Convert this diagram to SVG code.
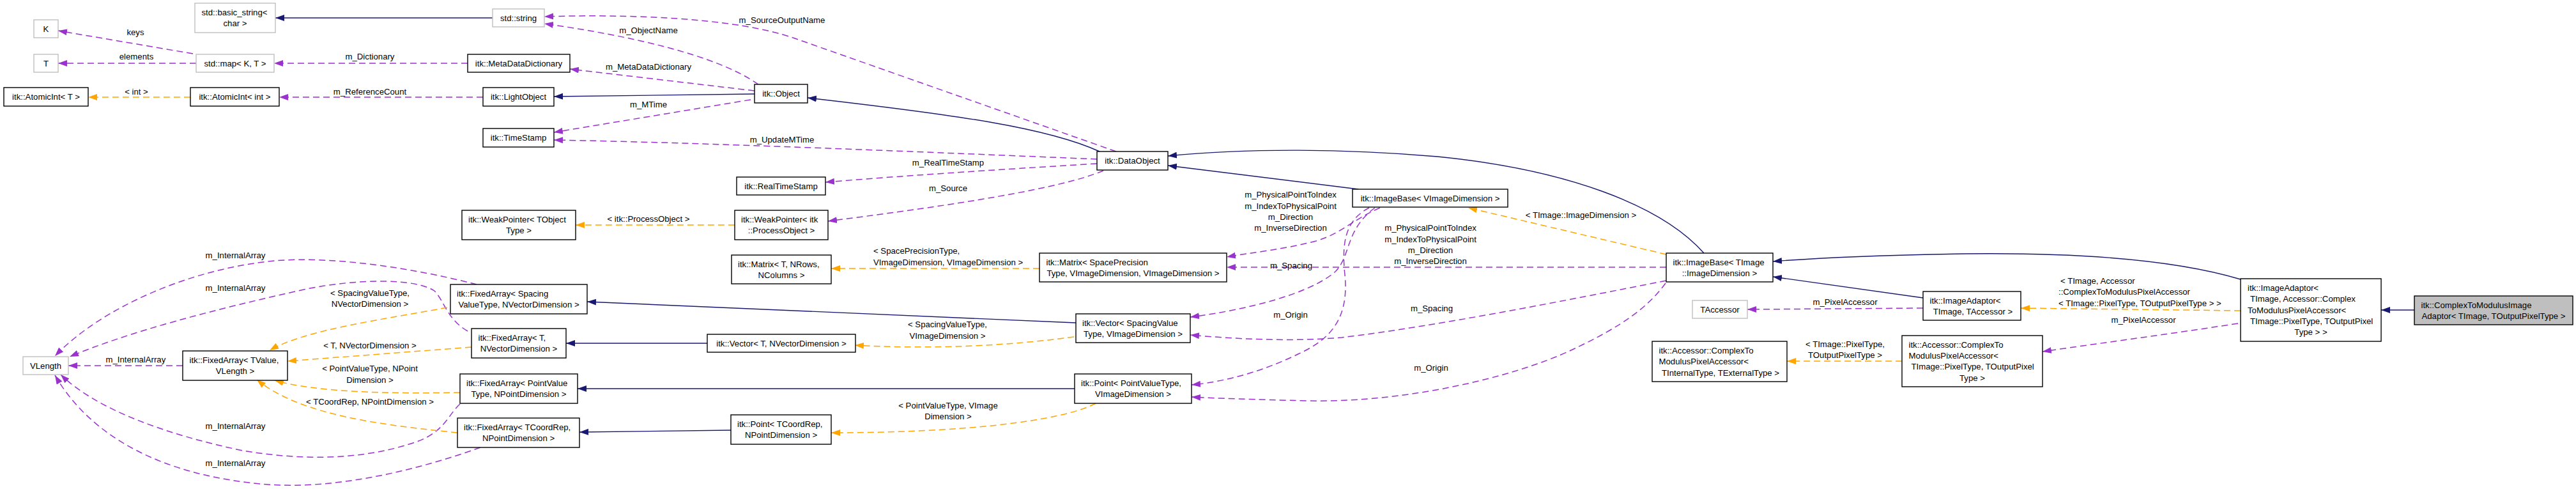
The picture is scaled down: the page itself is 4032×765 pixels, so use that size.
<svg xmlns="http://www.w3.org/2000/svg" width="4032" height="765" viewBox="0 0 4032 765">
<defs>
<style>
text{font-family:"Liberation Sans",Arial,Helvetica,sans-serif;font-size:13.2px;fill:#000}
.c{text-anchor:middle}
.n rect{fill:#fff;stroke:#000;stroke-width:1.4}
.u rect{fill:#fff;stroke:#bfbfbf;stroke-width:1.4}
.h rect{fill:#bfbfbf;stroke:#000;stroke-width:1.4}
#edges path{fill:none}
.inh{stroke:#191970;stroke-width:1.4;marker-end:url(#aN)}
.mem{stroke:#9a32cd;stroke-width:1.5;stroke-dasharray:10,6;marker-end:url(#aP)}
.tpl{stroke:#ffa500;stroke-width:1.5;stroke-dasharray:10,6;marker-end:url(#aO)}
</style>
<marker id="aN" markerUnits="userSpaceOnUse" markerWidth="16" markerHeight="12" refX="14" refY="5" orient="auto"><path d="M0,0L14,5L0,10z" fill="#191970"/></marker>
<marker id="aP" markerUnits="userSpaceOnUse" markerWidth="16" markerHeight="12" refX="14" refY="5" orient="auto"><path d="M0,0L14,5L0,10z" fill="#9a32cd"/></marker>
<marker id="aO" markerUnits="userSpaceOnUse" markerWidth="16" markerHeight="12" refX="14" refY="5" orient="auto"><path d="M0,0L14,5L0,10z" fill="#ffa500"/></marker>
</defs>
<rect x="0" y="0" width="4032" height="765" fill="#fff"/>
<g id="edges">
<path class="mem" d="M302,84L91,48"/>
<path class="mem" d="M307,99L91,99"/>
<path class="mem" d="M732,99L429,99"/>
<path class="mem" d="M756,152L437,152"/>
<path class="mem" d="M1187,132C1120,85 980,55 852,37"/>
<path class="mem" d="M1747,237L1244,60C1150,27 980,22 852,26"/>
<path class="mem" d="M1181,142L892,108"/>
<path class="mem" d="M1175,156L867,207"/>
<path class="mem" d="M1717,249C1450,238 1100,223 867,219"/>
<path class="mem" d="M1717,256C1550,266 1400,276 1292,285"/>
<path class="mem" d="M1727,267C1660,295 1500,320 1296,346"/>
<path class="mem" d="M2160,325C2115,345 2100,365 2060,377C2010,390 1960,395 1920,402"/>
<path class="mem" d="M2608,418L1920,418"/>
<path class="mem" d="M2152,325C2105,360 2115,400 2090,425C2050,460 1950,485 1863,496"/>
<path class="mem" d="M2143,325C2105,345 2100,380 2105,430C2112,500 2080,530 2040,550C1980,580 1920,597 1865,602"/>
<path class="mem" d="M2608,439C2450,470 2250,510 2100,528C2020,535 1930,530 1863,524"/>
<path class="mem" d="M2607,443C2580,480 2540,510 2461,547C2370,590 2200,630 2050,627C1960,625 1900,623 1865,621"/>
<path class="mem" d="M3010,482L2735,484"/>
<path class="mem" d="M3503,506C3400,522 3300,535 3197,550"/>
<path class="mem" d="M746,445C650,420 520,400 430,408C300,420 160,480 86,557"/>
<path class="mem" d="M732,518C700,500 695,470 680,455C650,435 560,436 480,452C330,485 200,520 109,558"/>
<path class="mem" d="M286,572L107,572"/>
<path class="mem" d="M720,632C700,650 695,680 640,695C560,720 470,720 380,705C260,680 150,640 95,586"/>
<path class="mem" d="M752,700C640,740 520,765 420,758C250,745 140,680 86,587"/>
<path class="tpl" d="M298,152L138,152"/>
<path class="tpl" d="M1150,352L901,352"/>
<path class="tpl" d="M1627,420L1301,420"/>
<path class="tpl" d="M2608,398L2298,325"/>
<path class="tpl" d="M700,481C600,500 480,515 422,548"/>
<path class="tpl" d="M738,543L450,565"/>
<path class="tpl" d="M720,614C620,616 500,615 430,595"/>
<path class="tpl" d="M716,677C600,665 470,650 402,594"/>
<path class="tpl" d="M1681,527C1550,545 1420,545 1338,540"/>
<path class="tpl" d="M1715,631C1660,660 1500,677 1301,677"/>
<path class="tpl" d="M2977,565L2797,565"/>
<path class="tpl" d="M3507,486L3163,482"/>
<path class="inh" d="M771,28L431,28"/>
<path class="inh" d="M1181,147L867,151"/>
<path class="inh" d="M1721,237C1640,200 1500,180 1264,153"/>
<path class="inh" d="M2126,296L1828,259"/>
<path class="inh" d="M2667,396C2600,320 2450,265 2250,245C2100,232 1950,232 1828,244"/>
<path class="inh" d="M1684,505L919,472"/>
<path class="inh" d="M1107,537L886,537"/>
<path class="inh" d="M1682,608L904,608"/>
<path class="inh" d="M1144,673L907,676"/>
<path class="inh" d="M3010,466L2775,433"/>
<path class="inh" d="M3507,437C3400,405 3250,395 3076,397C2950,399 2850,403 2775,409"/>
<path class="inh" d="M3779,485L3727,485"/>
<g id="edge-labels">
<text class="c" x="212" y="55.4">keys</text>
<text class="c" x="213.5" y="93.4">elements</text>
<text class="c" x="579" y="93.4">m_Dictionary</text>
<text class="c" x="213.5" y="148">&lt; int &gt;</text>
<text class="c" x="579" y="148">m_ReferenceCount</text>
<text class="c" x="1224" y="36.4">m_SourceOutputName</text>
<text class="c" x="1015" y="52.4">m_ObjectName</text>
<text class="c" x="1015" y="109.4">m_MetaDataDictionary</text>
<text class="c" x="1015" y="168.4">m_MTime</text>
<text class="c" x="1224" y="223.4">m_UpdateMTime</text>
<text class="c" x="1484" y="259.4">m_RealTimeStamp</text>
<text class="c" x="1484" y="299.4">m_Source</text>
<text class="c" x="1015" y="347.4">&lt; itk::ProcessObject &gt;</text>
<text x="1367" y="397.4">&lt; SpacePrecisionType,</text>
<text x="1367" y="414.7">VImageDimension, VImageDimension &gt;</text>
<text class="c" x="2020" y="309.4">m_PhysicalPointToIndex</text>
<text class="c" x="2020" y="327.4">m_IndexToPhysicalPoint</text>
<text class="c" x="2020" y="344.4">m_Direction</text>
<text class="c" x="2020" y="361.4">m_InverseDirection</text>
<text class="c" x="2239" y="361.4">m_PhysicalPointToIndex</text>
<text class="c" x="2239" y="379.4">m_IndexToPhysicalPoint</text>
<text class="c" x="2239" y="396.4">m_Direction</text>
<text class="c" x="2239" y="413.4">m_InverseDirection</text>
<text class="c" x="2021" y="419.7">m_Spacing</text>
<text class="c" x="2020" y="497.4">m_Origin</text>
<text class="c" x="2241" y="487.4">m_Spacing</text>
<text class="c" x="2240" y="580.4">m_Origin</text>
<text class="c" x="2474.5" y="341.4">&lt; TImage::ImageDimension &gt;</text>
<text class="c" x="2888" y="477.4">m_PixelAccessor</text>
<text class="c" x="2888" y="543.4">&lt; TImage::PixelType,</text>
<text class="c" x="2888" y="560.4">TOutputPixelType &gt;</text>
<text x="3225" y="444">&lt; TImage, Accessor</text>
<text x="3222" y="461.4">::ComplexToModulusPixelAccessor</text>
<text x="3222" y="479">&lt; TImage::PixelType, TOutputPixelType &gt; &gt;</text>
<text class="c" x="3355" y="504.7">m_PixelAccessor</text>
<text class="c" x="368.5" y="403.7">m_InternalArray</text>
<text class="c" x="368.5" y="455.4">m_InternalArray</text>
<text class="c" x="212.4" y="567.4">m_InternalArray</text>
<text class="c" x="368.5" y="671.4">m_InternalArray</text>
<text class="c" x="368.5" y="729.4">m_InternalArray</text>
<text class="c" x="579" y="463.4">&lt; SpacingValueType,</text>
<text class="c" x="579" y="480.4">NVectorDimension &gt;</text>
<text class="c" x="579" y="544.7">&lt; T, NVectorDimension &gt;</text>
<text class="c" x="579" y="581.4">&lt; PointValueType, NPoint</text>
<text class="c" x="579" y="599.4">Dimension &gt;</text>
<text class="c" x="579" y="632.7">&lt; TCoordRep, NPointDimension &gt;</text>
<text class="c" x="1483" y="512.4">&lt; SpacingValueType,</text>
<text class="c" x="1483" y="529.7">VImageDimension &gt;</text>
<text class="c" x="1484" y="639.4">&lt; PointValueType, VImage</text>
<text class="c" x="1484" y="656.4">Dimension &gt;</text>
</g>
</g>
<g id="n-K" class="u"><rect x="53" y="31" width="38" height="28"/><text class="c" x="72" y="49.7">K</text></g>
<g id="n-T" class="u"><rect x="53" y="85" width="38" height="28"/><text class="c" x="72" y="103.7">T</text></g>
<g id="n-basic_string" class="u"><rect x="305" y="5" width="126" height="46"/><text x="315.5" y="24">std::basic_string&lt;</text><text class="c" x="368" y="41.4">char &gt;</text></g>
<g id="n-string" class="u"><rect x="771" y="14" width="81" height="28"/><text class="c" x="811.5" y="32.7">std::string</text></g>
<g id="n-map" class="u"><rect x="307" y="85" width="122" height="28"/><text class="c" x="368" y="103.7">std::map&lt; K, T &gt;</text></g>
<g id="n-MetaDataDictionary" class="n"><rect x="732" y="85" width="160" height="28"/><text class="c" x="812" y="103.7">itk::MetaDataDictionary</text></g>
<g id="n-AtomicIntT" class="n"><rect x="6" y="137" width="132" height="29"/><text class="c" x="72" y="156.2">itk::AtomicInt&lt; T &gt;</text></g>
<g id="n-AtomicIntInt" class="n"><rect x="298" y="137" width="139" height="29"/><text class="c" x="367.5" y="156.2">itk::AtomicInt&lt; int &gt;</text></g>
<g id="n-LightObject" class="n"><rect x="756" y="137" width="111" height="29"/><text class="c" x="811.5" y="156.2">itk::LightObject</text></g>
<g id="n-TimeStamp" class="n"><rect x="756" y="201" width="111" height="29"/><text class="c" x="811.5" y="220.2">itk::TimeStamp</text></g>
<g id="n-Object" class="n"><rect x="1181" y="132" width="83" height="29"/><text class="c" x="1222.5" y="151.2">itk::Object</text></g>
<g id="n-DataObject" class="n"><rect x="1717" y="237" width="111" height="29"/><text class="c" x="1772.5" y="256.2">itk::DataObject</text></g>
<g id="n-RealTimeStamp" class="n"><rect x="1153" y="277" width="139" height="28"/><text class="c" x="1222.5" y="295.7">itk::RealTimeStamp</text></g>
<g id="n-WeakPointerT" class="n"><rect x="723" y="329" width="178" height="46"/><text x="733" y="348">itk::WeakPointer&lt; TObject</text><text class="c" x="812" y="365.4">Type &gt;</text></g>
<g id="n-WeakPointerPO" class="n"><rect x="1150" y="329" width="146" height="46"/><text x="1160" y="348">itk::WeakPointer&lt; itk</text><text class="c" x="1223" y="365.4">::ProcessObject &gt;</text></g>
<g id="n-MatrixT" class="n"><rect x="1145" y="399" width="156" height="45"/><text x="1155" y="417.6">itk::Matrix&lt; T, NRows,</text><text class="c" x="1223" y="434.9">NColumns &gt;</text></g>
<g id="n-MatrixSP" class="n"><rect x="1627" y="396" width="293" height="45"/><text x="1637.5" y="414.6">itk::Matrix&lt; SpacePrecision</text><text class="c" x="1773.5" y="431.9">Type, VImageDimension, VImageDimension &gt;</text></g>
<g id="n-ImageBaseV" class="n"><rect x="2117" y="296" width="243" height="28"/><text class="c" x="2238.5" y="314.7">itk::ImageBase&lt; VImageDimension &gt;</text></g>
<g id="n-ImageBaseT" class="n"><rect x="2608" y="396" width="167" height="45"/><text x="2618.5" y="414.6">itk::ImageBase&lt; TImage</text><text class="c" x="2691.5" y="431.9">::ImageDimension &gt;</text></g>
<g id="n-VLength" class="u"><rect x="36" y="558" width="71" height="28"/><text class="c" x="71.5" y="576.7">VLength</text></g>
<g id="n-FixedArrayTV" class="n"><rect x="286" y="549" width="164" height="46"/><text x="296.5" y="568">itk::FixedArray&lt; TValue,</text><text class="c" x="368" y="585.4">VLength &gt;</text></g>
<g id="n-FixedArraySV" class="n"><rect x="705" y="445" width="214" height="46"/><text x="715" y="464">itk::FixedArray&lt; Spacing</text><text class="c" x="812" y="481.4">ValueType, NVectorDimension &gt;</text></g>
<g id="n-FixedArrayTN" class="n"><rect x="738" y="514" width="148" height="46"/><text x="748.5" y="533">itk::FixedArray&lt; T,</text><text class="c" x="812" y="550.4">NVectorDimension &gt;</text></g>
<g id="n-FixedArrayPV" class="n"><rect x="720" y="585" width="184" height="46"/><text x="730" y="604">itk::FixedArray&lt; PointValue</text><text class="c" x="812" y="621.4">Type, NPointDimension &gt;</text></g>
<g id="n-FixedArrayTC" class="n"><rect x="716" y="654" width="191" height="46"/><text x="726" y="673">itk::FixedArray&lt; TCoordRep,</text><text class="c" x="811.5" y="690.4">NPointDimension &gt;</text></g>
<g id="n-VectorT" class="n"><rect x="1107" y="523" width="232" height="28"/><text class="c" x="1223" y="541.7">itk::Vector&lt; T, NVectorDimension &gt;</text></g>
<g id="n-PointTC" class="n"><rect x="1144" y="649" width="157" height="46"/><text x="1154" y="668">itk::Point&lt; TCoordRep,</text><text class="c" x="1222.5" y="685.4">NPointDimension &gt;</text></g>
<g id="n-VectorSV" class="n"><rect x="1684" y="491" width="179" height="45"/><text x="1694" y="509.6">itk::Vector&lt; SpacingValue</text><text class="c" x="1773.5" y="526.9">Type, VImageDimension &gt;</text></g>
<g id="n-PointPV" class="n"><rect x="1682" y="585" width="183" height="46"/><text x="1692" y="604">itk::Point&lt; PointValueType,</text><text class="c" x="1773.5" y="621.4">VImageDimension &gt;</text></g>
<g id="n-TAccessor" class="u"><rect x="2649" y="470" width="86" height="28"/><text class="c" x="2692" y="488.7">TAccessor</text></g>
<g id="n-AccessorTI" class="n"><rect x="2586" y="534" width="211" height="63"/><text x="2596.5" y="552.9">itk::Accessor::ComplexTo</text><text x="2596.5" y="570.2">ModulusPixelAccessor&lt;</text><text class="c" x="2693" y="587.5">TInternalType, TExternalType &gt;</text></g>
<g id="n-ImageAdaptorTA" class="n"><rect x="3010" y="456" width="153" height="45"/><text x="3020.5" y="474.6">itk::ImageAdaptor&lt;</text><text class="c" x="3088" y="491.9">TImage, TAccessor &gt;</text></g>
<g id="n-AccessorPT" class="n"><rect x="2977" y="525" width="220" height="80"/><text x="2987.5" y="543.8">itk::Accessor::ComplexTo</text><text x="2987.5" y="561.1">ModulusPixelAccessor&lt;</text><text x="2991.5" y="578.4">TImage::PixelType, TOutputPixel</text><text class="c" x="3087" y="595.7">Type &gt;</text></g>
<g id="n-ImageAdaptorBig" class="n"><rect x="3507" y="436" width="220" height="98"/><text x="3518" y="455.1">itk::ImageAdaptor&lt;</text><text x="3522" y="472.4">TImage, Accessor::Complex</text><text x="3518" y="489.7">ToModulusPixelAccessor&lt;</text><text x="3522" y="507">TImage::PixelType, TOutputPixel</text><text class="c" x="3617" y="524.3">Type &gt; &gt;</text></g>
<g id="n-ComplexToModulusImageAdaptor" class="h"><rect x="3779" y="463" width="248" height="45"/><text x="3789.5" y="481.6">itk::ComplexToModulusImage</text><text class="c" x="3903" y="498.9">Adaptor&lt; TImage, TOutputPixelType &gt;</text></g>
</svg>
